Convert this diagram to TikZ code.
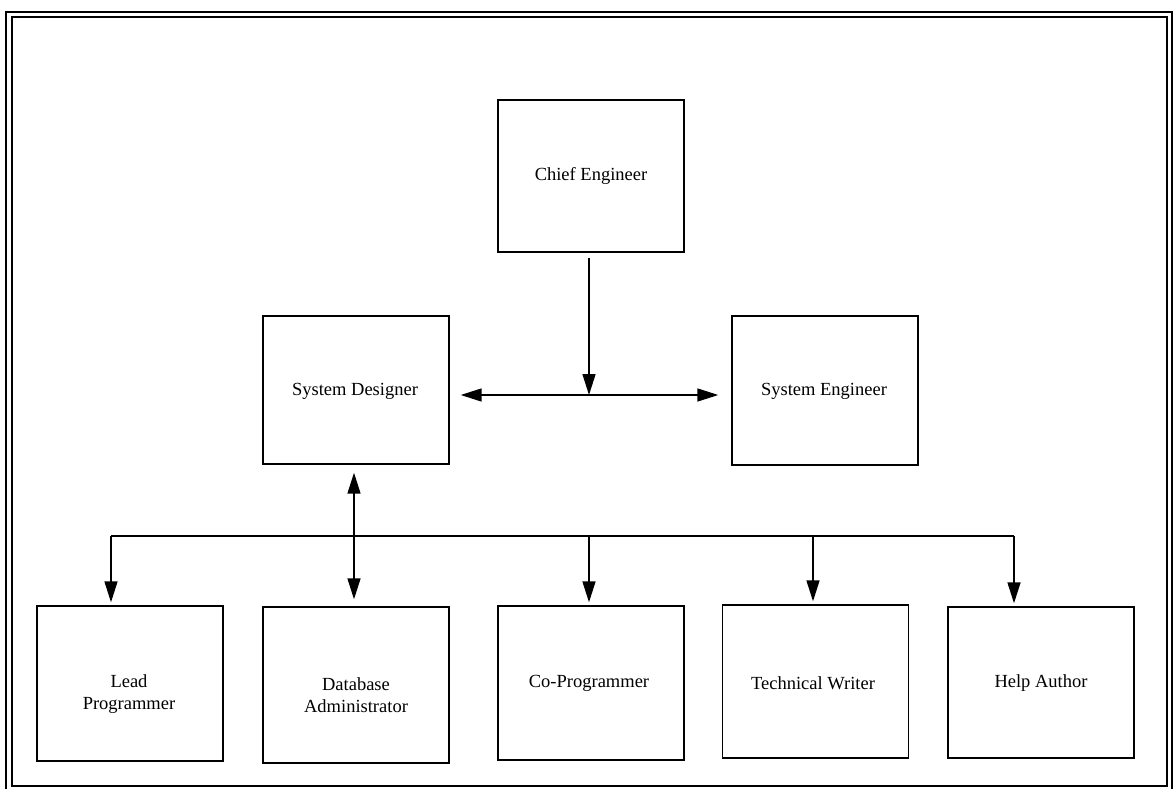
\documentclass[tikz,border=0pt]{standalone}
\usepackage{fontspec}
\setmainfont{Liberation Serif}
\usetikzlibrary{arrows.meta}
\begin{document}
\begin{tikzpicture}[x=1pt,y=-1pt,
  box/.style={draw, line width=1.4pt, minimum width=186pt, minimum height=153pt, inner sep=0pt},
  txt/.style={font=\fontsize{18.5}{22.5}\selectfont, align=center, inner sep=0pt},
  link/.style={line width=1.5pt, -{Triangle[length=21pt,width=13pt]}},
  dlink/.style={line width=1.5pt, {Triangle[length=21pt,width=13pt]}-{Triangle[length=21pt,width=13pt]}},
  bus/.style={line width=1.5pt},
  frame/.style={line width=1.9pt}]
\useasboundingbox (0,0) rectangle (1175,789);

% double border
\draw[frame] (6,12) rectangle (1172,796);
\draw[frame] (12,17) rectangle (1167,786);

% boxes
\node[box, minimum height=152pt] (chief) at (591,176) {};
\node[box, minimum height=148pt] (sysdes) at (356,390) {};
\node[box, minimum height=149pt] (syseng) at (825,390.5) {};
\node[box, minimum height=155pt] (lead) at (130,683.5) {};
\node[box, minimum height=156pt] (dba) at (356,685) {};
\node[box, minimum height=154pt] (cop) at (591,683) {};
\node[box, minimum height=153pt] (tech) at (815.5,681.5) {};
\node[box, minimum height=151pt] (help) at (1041,682.5) {};

% labels
\node[txt] (tchief) at (591,176) {Chief Engineer};
\node[txt] (tsysdes) at (355,391) {System Designer};
\node[txt] (tsyseng) at (824,391) {System Engineer};
\node[txt] (tlead) at (129,694) {Lead\\Programmer};
\node[txt] (tdba) at (356,695) {Database\\Administrator};
\node[txt] (tcop) at (589,683) {Co-Programmer};
\node[txt] (ttech) at (813,683) {Technical Writer};
\node[txt] (thelp) at (1041,683) {Help Author};

% chief engineer to the two system roles
\coordinate (j1) at (589,395);
\draw[link] (chief.south -| j1) ++(0,5) -- (j1);
\draw[dlink] ([xshift=11pt]sysdes.east |- j1) -- ([xshift=-13pt]syseng.west |- j1);

% system designer to the team
\coordinate (dbx) at (354,536);
\draw[dlink] ([yshift=-8pt]sysdes.south -| dbx) -- ([yshift=7pt]dba.north -| dbx);

\coordinate (busL) at (111,536);
\coordinate (busR) at (1014,536);
\coordinate (busC) at (589,536);
\coordinate (busT) at (813,536);
\draw[bus] (busL) -- (busR);
\draw[link] (busL) -- ([yshift=3pt]lead.north -| busL);
\draw[link] (busC) -- ([yshift=3pt]cop.north -| busC);
\draw[link] (busT) -- ([yshift=3pt]tech.north -| busT);
\draw[link] (busR) -- ([yshift=3pt]help.north -| busR);
\end{tikzpicture}
\end{document}
